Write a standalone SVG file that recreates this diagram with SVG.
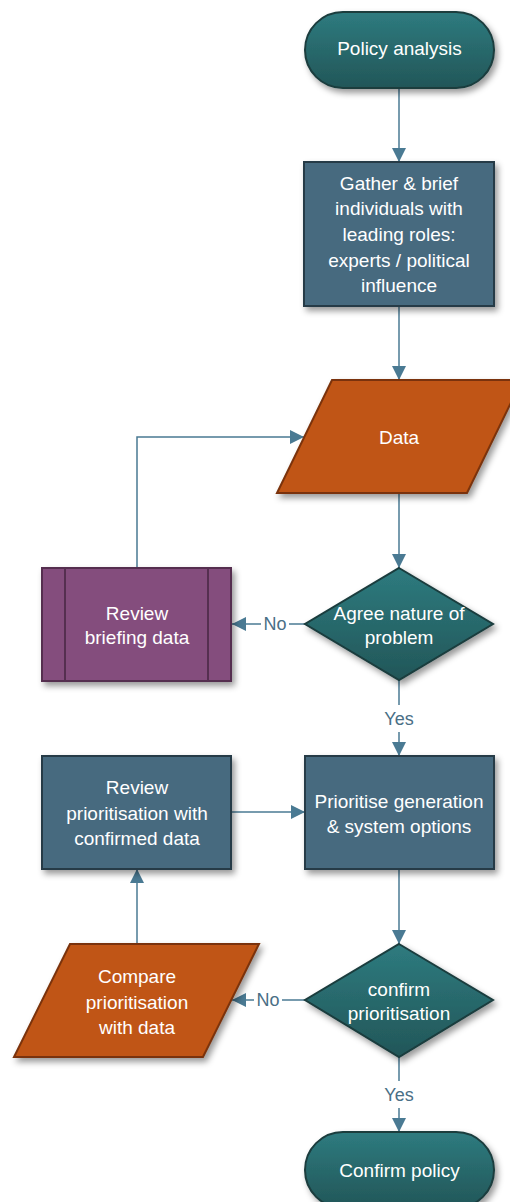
<svg xmlns="http://www.w3.org/2000/svg" width="510" height="1202" viewBox="0 0 510 1202">
<defs>
<linearGradient id="gTeal" x1="0" y1="0" x2="0" y2="1">
<stop offset="0" stop-color="#2e7b7f"/>
<stop offset="1" stop-color="#225658"/>
</linearGradient>
<filter id="sh" x="-20%" y="-20%" width="150%" height="150%">
<feDropShadow dx="3" dy="4" stdDeviation="3" flood-color="#000" flood-opacity="0.4"/>
</filter>
<marker id="arr" viewBox="0 0 14 14" refX="14" refY="7" markerWidth="14" markerHeight="14" markerUnits="userSpaceOnUse" orient="auto">
<path d="M0,0 L14,7 L0,14 Z" fill="#4a7a93"/>
</marker>
<style>
.t{font-family:"Liberation Sans","Open Sans",sans-serif;font-size:19px;fill:#ffffff;text-anchor:middle}
.lbl{font-family:"Liberation Sans","Open Sans",sans-serif;font-size:18px;fill:#4a6f86;text-anchor:middle}
.c{fill:none;stroke:#4a7a93;stroke-width:1.5}
.teal{fill:url(#gTeal);stroke:#1a3c3e;stroke-width:2;filter:url(#sh)}
.blue{fill:#466b7f;stroke:#263a46;stroke-width:2;filter:url(#sh)}
.orange{fill:#c05412;stroke:#7a330a;stroke-width:2;filter:url(#sh)}
.purple{fill:#844e7d;stroke:#552f50;stroke-width:2;filter:url(#sh)}
</style>
</defs>

<g id="connectors">
<line class="c" x1="399" y1="88" x2="399" y2="162" marker-end="url(#arr)"/>
<line class="c" x1="399" y1="306" x2="399" y2="380" marker-end="url(#arr)"/>
<line class="c" x1="399" y1="493" x2="399" y2="568" marker-end="url(#arr)"/>
<polyline class="c" points="137,568 137,437 304,437" marker-end="url(#arr)"/>
<line class="c" x1="305" y1="624" x2="289" y2="624"/>
<line class="c" x1="261" y1="624" x2="232" y2="624" marker-end="url(#arr)"/>
<text class="lbl" x="275" y="630">No</text>
<line class="c" x1="399" y1="680" x2="399" y2="705"/>
<line class="c" x1="399" y1="732" x2="399" y2="756" marker-end="url(#arr)"/>
<text class="lbl" x="399" y="725">Yes</text>
<line class="c" x1="231" y1="812" x2="305" y2="812" marker-end="url(#arr)"/>
<line class="c" x1="399" y1="869" x2="399" y2="944" marker-end="url(#arr)"/>
<line class="c" x1="137" y1="944" x2="137" y2="869" marker-end="url(#arr)"/>
<line class="c" x1="305" y1="1000" x2="282" y2="1000"/>
<line class="c" x1="254" y1="1000" x2="232" y2="1000" marker-end="url(#arr)"/>
<text class="lbl" x="268" y="1006">No</text>
<line class="c" x1="399" y1="1057" x2="399" y2="1081"/>
<line class="c" x1="399" y1="1108" x2="399" y2="1132" marker-end="url(#arr)"/>
<text class="lbl" x="399" y="1101">Yes</text>
</g>

<g id="policy-analysis">
<rect class="teal" x="305" y="12" width="189" height="76" rx="38" ry="38"/>
<text class="t" x="399.5" y="55">Policy analysis</text>
</g>

<g id="gather">
<rect class="blue" x="304" y="162" width="190" height="144"/>
<text class="t" x="399" y="190">Gather &amp; brief</text>
<text class="t" x="399" y="215">individuals with</text>
<text class="t" x="399" y="241">leading roles:</text>
<text class="t" x="399" y="267">experts / political</text>
<text class="t" x="399" y="292">influence</text>
</g>

<g id="data">
<polygon class="orange" points="332,380 522,380 467,493 277,493"/>
<text class="t" x="399" y="444">Data</text>
</g>

<g id="review-briefing">
<rect class="purple" x="42" y="568" width="189" height="113"/>
<line x1="65" y1="568" x2="65" y2="681" stroke="#552f50" stroke-width="2"/>
<line x1="208" y1="568" x2="208" y2="681" stroke="#552f50" stroke-width="2"/>
<text class="t" x="137" y="620">Review</text>
<text class="t" x="137" y="644">briefing data</text>
</g>

<g id="agree">
<polygon class="teal" points="399,568 493,624 399,680 305,624"/>
<text class="t" x="399" y="620">Agree nature of</text>
<text class="t" x="399" y="644">problem</text>
</g>

<g id="review-prioritisation">
<rect class="blue" x="42" y="756" width="189" height="113"/>
<text class="t" x="137" y="794">Review</text>
<text class="t" x="137" y="820">prioritisation with</text>
<text class="t" x="137" y="845">confirmed data</text>
</g>

<g id="prioritise">
<rect class="blue" x="305" y="756" width="189" height="113"/>
<text class="t" x="399" y="808">Prioritise generation</text>
<text class="t" x="399" y="833">&amp; system options</text>
</g>

<g id="compare">
<polygon class="orange" points="70,944 259,944 203,1057 14,1057"/>
<text class="t" x="137" y="983">Compare</text>
<text class="t" x="137" y="1009">prioritisation</text>
<text class="t" x="137" y="1034">with data</text>
</g>

<g id="confirm-prioritisation">
<polygon class="teal" points="399,944 493,1000 399,1057 305,1000"/>
<text class="t" x="399" y="996">confirm</text>
<text class="t" x="399" y="1020">prioritisation</text>
</g>

<g id="confirm-policy">
<rect class="teal" x="305" y="1132" width="189" height="76" rx="38" ry="38"/>
<text class="t" x="399.5" y="1177">Confirm policy</text>
</g>
</svg>
